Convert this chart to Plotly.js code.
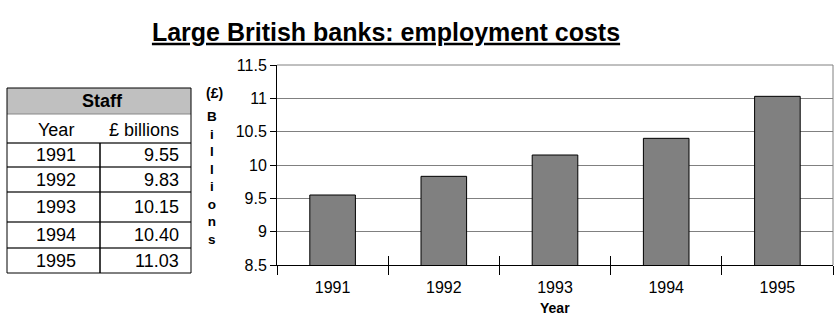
<!DOCTYPE html>
<html><head><meta charset="utf-8">
<script src="https://cdn.plot.ly/plotly-3.0.1.min.js"></script>
<style>html,body{margin:0;padding:0;background:#fff}#chart{width:834px;height:327px}</style>
</head><body><div id="chart"></div>
<script>
// ---- data ----
const years = ['1991', '1992', '1993', '1994', '1995'];
const costs = [9.55, 9.83, 10.15, 10.40, 11.03];
const tableTitle = 'Staff';
const tableHeaders = ['Year', '£ billions'];
const chartTitle = 'Large British banks: employment costs';
const xTitle = 'Year';
const yUnit = '(£)';
const yWord = 'Billions';

// ---- geometry (pixels) ----
const W = 834, H = 327, L = 277, R = 1, T = 65, B = 62;
const PW = W - L - R, PH = H - T - B;
const px = x => (x - L) / PW;
const py = y => (H - B - y) / PH;
const FONT = 'Liberation Sans, Arial, sans-serif';

const tblLeft = 7, tblRight = 191, tblTop = 88, hdrBottom = 114, colDiv = 100;
const rowEdges = [143, 167, 192, 222, 248, 273];

const shapes = [];
const annotations = [];

// table header fill
shapes.push({type: 'rect', xref: 'paper', yref: 'paper', x0: px(tblLeft), x1: px(tblRight), y0: py(hdrBottom), y1: py(tblTop), fillcolor: '#c0c0c0', line: {width: 0}, layer: 'above'});
shapes.push({type: 'line', xref: 'paper', yref: 'paper', x0: px(tblLeft), x1: px(tblRight), y0: py(hdrBottom), y1: py(hdrBottom), line: {color: '#888', width: 1}, layer: 'above'});
// row lines
for (let i = 0; i < rowEdges.length - 1; i++) {
  shapes.push({type: 'line', xref: 'paper', yref: 'paper', x0: px(tblLeft), x1: px(tblRight), y0: py(rowEdges[i]), y1: py(rowEdges[i]), line: {color: '#333', width: 1.5}, layer: 'above'});
}
// column divider
shapes.push({type: 'line', xref: 'paper', yref: 'paper', x0: px(colDiv), x1: px(colDiv), y0: py(rowEdges[0]), y1: py(rowEdges[rowEdges.length - 1]), line: {color: '#000', width: 1.5}, layer: 'above'});
// outer border
shapes.push({type: 'rect', xref: 'paper', yref: 'paper', x0: px(tblLeft), x1: px(tblRight), y0: py(rowEdges[rowEdges.length - 1]), y1: py(tblTop), line: {color: '#000', width: 1}, layer: 'above'});
// plot area top and right borders
shapes.push({type: 'line', xref: 'paper', yref: 'paper', x0: 0, x1: 1, y0: 1, y1: 1, line: {color: '#808080', width: 1}, layer: 'above'});
shapes.push({type: 'line', xref: 'paper', yref: 'paper', x0: 1, x1: 1, y0: 0, y1: 1, line: {color: '#808080', width: 1}, layer: 'above'});

// table text
annotations.push({xref: 'paper', yref: 'paper', x: px(102), y: py((tblTop + hdrBottom) / 2), text: '<b>' + tableTitle + '</b>', showarrow: false, xanchor: 'center', yanchor: 'middle', font: {family: FONT, size: 18, color: '#000'}});
annotations.push({xref: 'paper', yref: 'paper', x: px(56), y: py((hdrBottom + rowEdges[0]) / 2 + 1), text: tableHeaders[0], showarrow: false, xanchor: 'center', yanchor: 'middle', font: {family: FONT, size: 18, color: '#000'}});
annotations.push({xref: 'paper', yref: 'paper', x: px(144), y: py((hdrBottom + rowEdges[0]) / 2 + 1), text: tableHeaders[1], showarrow: false, xanchor: 'center', yanchor: 'middle', font: {family: FONT, size: 18, color: '#000'}});
for (let i = 0; i < years.length; i++) {
  const yc = (rowEdges[i] + rowEdges[i + 1]) / 2;
  annotations.push({xref: 'paper', yref: 'paper', x: px(56), y: py(yc), text: years[i], showarrow: false, xanchor: 'center', yanchor: 'middle', font: {family: FONT, size: 18, color: '#000'}});
  annotations.push({xref: 'paper', yref: 'paper', x: px(181), y: py(yc), text: costs[i].toFixed(2), showarrow: false, xanchor: 'right', yanchor: 'middle', font: {family: FONT, size: 18, color: '#000'}});
}

// y-axis title pieces
annotations.push({xref: 'paper', yref: 'paper', x: px(214), y: py(93), text: '<b>' + yUnit + '</b>', showarrow: false, xanchor: 'center', yanchor: 'middle', font: {family: FONT, size: 14, color: '#000'}});
annotations.push({xref: 'paper', yref: 'paper', x: px(212), y: py(178), text: '<b>' + yWord.split('').join('<br>') + '</b>', showarrow: false, xanchor: 'center', yanchor: 'middle', align: 'center', font: {family: FONT, size: 13.5, color: '#000'}});
// x-axis title
annotations.push({xref: 'paper', yref: 'paper', x: 0.5, y: py(308), text: '<b>' + xTitle + '</b>', showarrow: false, xanchor: 'center', yanchor: 'middle', font: {family: FONT, size: 14, color: '#000'}});

const traces = [
  {type: 'bar', x: years, y: costs, marker: {color: '#808080', line: {color: '#000', width: 1}}, hoverinfo: 'skip', base: 0},
  {type: 'scatter', mode: 'markers', x: years, y: costs, xaxis: 'x2', yaxis: 'y', marker: {opacity: 0}, hoverinfo: 'skip', showlegend: false}
];

const layout = {
  width: W, height: H,
  margin: {l: L, r: R, t: T, b: B, pad: 0},
  paper_bgcolor: '#fff', plot_bgcolor: '#fff',
  showlegend: false,
  bargap: 0.59,
  title: {
    text: '<u>' + chartTitle + '</u>',
    font: {family: FONT, size: 25, color: '#000', weight: 'bold'},
    x: 386 / W, xref: 'container', xanchor: 'center',
    y: 1 - 32 / H, yref: 'container', yanchor: 'middle'
  },
  xaxis: {
    type: 'category', showline: true, linecolor: '#000', linewidth: 1,
    ticks: 'outside', tickson: 'boundaries', ticklen: 9, tickcolor: '#000', tickwidth: 1,
    ticklabelstandoff: 8,
    showgrid: false, tickfont: {family: FONT, size: 16, color: '#000'}, fixedrange: true
  },
  xaxis2: {
    type: 'category', overlaying: 'x', matches: 'x', anchor: 'y', side: 'bottom',
    ticks: 'inside', tickson: 'boundaries', ticklen: 9, tickcolor: '#000', tickwidth: 1,
    showticklabels: false, showgrid: false, showline: false
  },
  yaxis: {
    range: [8.5, 11.5], dtick: 0.5, tick0: 8.5,
    showline: true, linecolor: '#000', linewidth: 1,
    ticks: 'outside', ticklen: 6, tickcolor: '#000', tickwidth: 1,
    showgrid: true, gridcolor: '#808080', gridwidth: 1, zeroline: false,
    tickfont: {family: FONT, size: 16, color: '#000'}, fixedrange: true
  },
  shapes: shapes,
  annotations: annotations
};

Plotly.newPlot('chart', traces, layout, {displayModeBar: false, staticPlot: true});
</script>
</body></html>
